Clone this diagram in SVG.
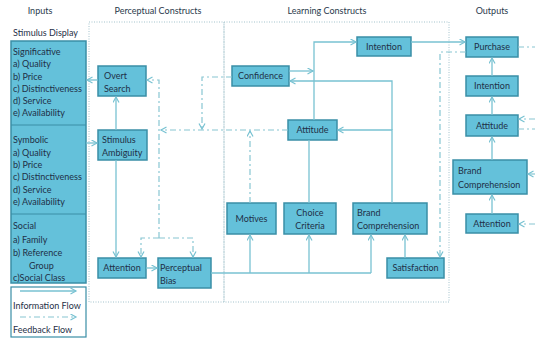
<svg xmlns="http://www.w3.org/2000/svg" width="535" height="339" viewBox="0 0 535 339">
<style>
  text { font-family: Lato, "Open Sans", "DejaVu Sans", sans-serif; font-size: 9px; fill: #1f3047; }
  .hdr { font-size: 9px; fill: #2a3a4c; }
  .box { fill: #64c1da; stroke: #3a8ea6; stroke-width: 1.5; }
  .region { fill: none; stroke: #a3c3cc; stroke-width: 1; stroke-dasharray: 1 1.5; }
  .flow { fill: none; stroke: #78c2d2; stroke-width: 1.3; }
  .fb { fill: none; stroke: #88c6d2; stroke-width: 1.2; stroke-dasharray: 6 3 2 3; }
  .div { stroke: #3a8ea6; stroke-width: 1; }
</style>
<defs>
  <marker id="arr" markerWidth="8" markerHeight="8" refX="6" refY="3.5" orient="auto" markerUnits="userSpaceOnUse">
    <path d="M0.5,0.5 L6,3.5 L0.5,6.5" fill="none" stroke="#78c2d2" stroke-width="1.2"/>
  </marker>
</defs>
<rect width="535" height="339" fill="#ffffff"/>

<!-- headers -->
<text class="hdr" x="40" y="14" text-anchor="middle">Inputs</text>
<text class="hdr" x="158" y="14" text-anchor="middle">Perceptual Constructs</text>
<text class="hdr" x="327" y="14" text-anchor="middle">Learning Constructs</text>
<text class="hdr" x="492" y="14" text-anchor="middle">Outputs</text>
<text x="13" y="36">Stimulus Display</text>

<!-- regions -->
<rect class="region" x="89" y="22" width="135" height="280"/>
<rect class="region" x="224" y="22" width="225" height="280"/>

<!-- inputs -->
<g id="inputs">
  <rect class="box" x="11" y="41" width="75" height="242"/>
  <line class="div" x1="11" y1="125" x2="86" y2="125"/>
  <line class="div" x1="11" y1="214" x2="86" y2="214"/>
  <text x="13" y="55">Significative</text>
  <text x="13" y="67">a) Quality</text>
  <text x="13" y="79.5">b) Price</text>
  <text x="13" y="91.5">c) Distinctiveness</text>
  <text x="13" y="104">d) Service</text>
  <text x="13" y="116">e) Availability</text>
  <text x="13" y="143">Symbolic</text>
  <text x="13" y="155.5">a) Quality</text>
  <text x="13" y="167.5">b) Price</text>
  <text x="13" y="180">c) Distinctiveness</text>
  <text x="13" y="192.5">d) Service</text>
  <text x="13" y="204.5">e) Availability</text>
  <text x="13" y="229">Social</text>
  <text x="13" y="243">a) Family</text>
  <text x="13" y="256">b) Reference</text>
  <text x="29" y="268.5">Group</text>
  <text x="13" y="281">c)Social Class</text>
</g>

<!-- legend -->
<g id="legend">
  <rect x="11" y="287" width="75" height="50" fill="#ffffff" stroke="#3a8ea6" stroke-width="1.2"/>
  <line class="flow" x1="20" y1="291" x2="76" y2="291" marker-end="url(#arr)"/>
  <text x="13" y="309">Information Flow</text>
  <line class="fb" x1="20" y1="317" x2="76" y2="317" marker-end="url(#arr)"/>
  <text x="13" y="333">Feedback Flow</text>
</g>

<!-- nodes -->
<g id="overt-search"><rect class="box" x="98" y="66" width="48" height="30"/><text x="104" y="79">Overt</text><text x="104" y="92">Search</text></g>
<g id="stimulus-ambiguity"><rect class="box" x="98" y="130" width="49" height="30"/><text x="102" y="143">Stimulus</text><text x="102" y="156">Ambiguity</text></g>
<g id="attention-p"><rect class="box" x="98" y="258" width="48" height="20"/><text x="122" y="271" text-anchor="middle">Attention</text></g>
<g id="perceptual-bias"><rect class="box" x="158" y="258" width="53" height="30"/><text x="160" y="271">Perceptual</text><text x="160" y="284">Bias</text></g>

<g id="confidence"><rect class="box" x="232" y="66" width="57" height="20"/><text x="260.5" y="79" text-anchor="middle">Confidence</text></g>
<g id="attitude-l"><rect class="box" x="288" y="120" width="49" height="20"/><text x="312.5" y="133" text-anchor="middle">Attitude</text></g>
<g id="intention-l"><rect class="box" x="357" y="37" width="54" height="19"/><text x="384" y="50" text-anchor="middle">Intention</text></g>
<g id="motives"><rect class="box" x="227" y="203" width="49" height="31"/><text x="251.5" y="222" text-anchor="middle">Motives</text></g>
<g id="choice-criteria"><rect class="box" x="284" y="203" width="52" height="31"/><text x="310" y="216" text-anchor="middle">Choice</text><text x="310" y="229" text-anchor="middle">Criteria</text></g>
<g id="brand-comp-l"><rect class="box" x="353" y="203" width="74" height="31"/><text x="357" y="216">Brand</text><text x="357" y="229">Comprehension</text></g>
<g id="satisfaction"><rect class="box" x="387" y="258" width="57" height="20"/><text x="415.5" y="271" text-anchor="middle">Satisfaction</text></g>

<g id="purchase"><rect class="box" x="466" y="37" width="52" height="20"/><text x="492" y="50" text-anchor="middle">Purchase</text></g>
<g id="intention-o"><rect class="box" x="466" y="76" width="52" height="20"/><text x="492" y="89" text-anchor="middle">Intention</text></g>
<g id="attitude-o"><rect class="box" x="466" y="115" width="52" height="21"/><text x="492" y="128.5" text-anchor="middle">Attitude</text></g>
<g id="brand-comp-o"><rect class="box" x="453" y="160" width="74" height="34"/><text x="458" y="174">Brand</text><text x="458" y="188">Comprehension</text></g>
<g id="attention-o"><rect class="box" x="466" y="214" width="52" height="19"/><text x="492" y="227" text-anchor="middle">Attention</text></g>

<!-- connectors -->
<g id="connectors">
  <!-- information flow -->
  <line class="flow" x1="98" y1="80" x2="87" y2="80" marker-end="url(#arr)"/>
  <line class="flow" x1="86" y1="143" x2="97" y2="143" marker-end="url(#arr)"/>
  <line class="flow" x1="116" y1="130" x2="116" y2="97" marker-end="url(#arr)"/>
  <line class="flow" x1="116" y1="160" x2="116" y2="257" marker-end="url(#arr)"/>
  <line class="flow" x1="146" y1="268" x2="157" y2="268" marker-end="url(#arr)"/>
  <polyline class="flow" points="211,273 371,273"/>
  <line class="flow" x1="250" y1="273" x2="250" y2="235" marker-end="url(#arr)"/>
  <line class="flow" x1="309" y1="273" x2="309" y2="235" marker-end="url(#arr)"/>
  <line class="flow" x1="371" y1="273" x2="371" y2="235" marker-end="url(#arr)"/>
  <line class="flow" x1="405" y1="258" x2="405" y2="235" marker-end="url(#arr)"/>
  <line class="flow" x1="309" y1="203" x2="309" y2="140"/>
  <polyline class="flow" points="392,203 392,130 338,130" marker-end="url(#arr)"/>
  <polyline class="flow" points="392,130 392,81 290,81" marker-end="url(#arr)"/>
  <line class="flow" x1="289" y1="71" x2="313" y2="71" marker-end="url(#arr)"/>
  <polyline class="flow" points="314,120 314,42 356,42" marker-end="url(#arr)"/>
  <line class="flow" x1="411" y1="42" x2="465" y2="42" marker-end="url(#arr)"/>
  <line class="flow" x1="492" y1="214" x2="492" y2="195" marker-end="url(#arr)"/>
  <line class="flow" x1="492" y1="160" x2="492" y2="137" marker-end="url(#arr)"/>
  <line class="flow" x1="492" y1="115" x2="492" y2="97" marker-end="url(#arr)"/>
  <line class="flow" x1="492" y1="76" x2="492" y2="58" marker-end="url(#arr)"/>

  <!-- feedback flow -->
  <polyline class="fb" points="288,130 161,130" marker-end="url(#arr)"/>
  <polyline class="fb" points="159,238 159,80 147,80" marker-end="url(#arr)"/>
  <polyline class="fb" points="159,238 141,238 141,257" marker-end="url(#arr)"/>
  <polyline class="fb" points="159,238 193,238 193,257" marker-end="url(#arr)"/>
  <polyline class="fb" points="232,77 202,77 202,129" marker-end="url(#arr)"/>
  <line class="fb" x1="250" y1="203" x2="250" y2="131" marker-end="url(#arr)"/>
  <polyline class="fb" points="466,52 440,52 440,257" marker-end="url(#arr)"/>
  <line class="fb" x1="518" y1="47" x2="535" y2="47"/>
  <line class="fb" x1="535" y1="119" x2="519" y2="119" marker-end="url(#arr)"/>
  <line class="fb" x1="518" y1="129" x2="535" y2="129"/>
  <line class="fb" x1="535" y1="174" x2="528" y2="174" marker-end="url(#arr)"/>
  <line class="fb" x1="535" y1="224" x2="519" y2="224" marker-end="url(#arr)"/>
</g>
</svg>
